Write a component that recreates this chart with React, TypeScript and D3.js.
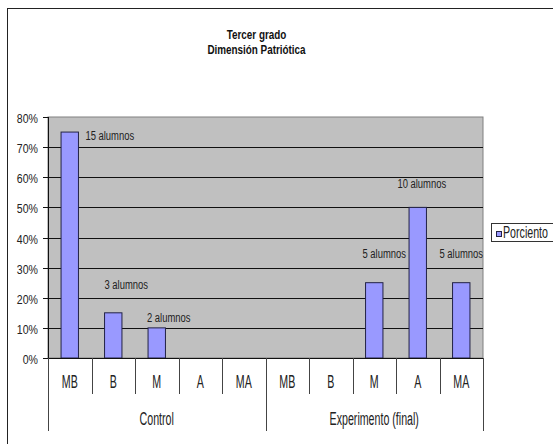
import React from "react";
import * as d3 from "d3";

const categories = ["MB", "B", "M", "A", "MA", "MB", "B", "M", "A", "MA"];
const groups = ["Control", "Experimento (final)"];
const values = [0.75, 0.15, 0.1, 0, 0, 0, 0, 0.25, 0.5, 0.25];
const barLabels = ["15 alumnos", "3 alumnos", "2 alumnos", "", "", "", "", "5 alumnos", "10 alumnos", "5 alumnos"];
const yTicks = [0, 0.1, 0.2, 0.3, 0.4, 0.5, 0.6, 0.7, 0.8];
const titleLines = ["Tercer grado", "Dimensión Patriótica"];
const seriesName = "Porciento";

// manual label placement (style, not data)
const labelOffsets: [number, number][] = [
  [40, 8], [13, -24], [12, -6], [0, 0], [0, 0], [0, 0], [0, 0], [10, -24.5], [4, -19], [0, -24.5],
];

const W = 553, H = 444;
const plot = { left: 48, right: 483, top: 117, bottom: 358 };
const SANS = "'Liberation Sans', Arial, sans-serif";

function NText(props: {
  x: number; y: number; sx?: number; sy?: number; size: number; anchor?: string; bold?: boolean; children: React.ReactNode; fill?: string;
}) {
  const { x, y, sx = 0.82, sy = 1, size, anchor = "middle", bold, children, fill = "#222" } = props;
  return (
    <text
      transform={`translate(${x},${y}) scale(${sx},${sy})`}
      textAnchor={anchor}
      fontFamily={SANS}
      fontSize={size}
      fontWeight={bold ? "bold" : "normal"}
      fill={fill}
    >
      {children}
    </text>
  );
}

export default function App() {
  const idx = categories.map((_, i) => i);
  const x = d3.scaleBand<number>().domain(idx).range([plot.left, plot.right]).paddingInner(0).paddingOuter(0);
  const y = d3.scaleLinear().domain([0, 0.8]).range([plot.bottom, plot.top]);
  const bw = x.bandwidth();
  const barW = bw * 0.4;
  const fmt = d3.format(".0%");
  const groupSize = categories.length / groups.length;
  const px = (v: number) => Math.round(v) + 0.5;

  return (
    <svg width={W} height={H} style={{ position: "absolute", left: 0, top: 0, background: "#fff" }}>
      {/* outer frame */}
      <rect x={7.5} y={8.5} width={700} height={600} fill="#fff" stroke="#222" strokeWidth={1} />

      {/* title */}
      {titleLines.map((t, i) => (
        <NText key={t} x={256.5} y={38.5 + i * 15.2} size={11.5} bold sx={0.86} sy={1.05} fill="#111">
          {t}
        </NText>
      ))}

      {/* plot area */}
      <rect x={plot.left} y={plot.top} width={plot.right - plot.left} height={plot.bottom - plot.top} fill="#c0c0c0" stroke="#808080" strokeWidth={1} />

      {/* gridlines */}
      {yTicks.filter((t) => t > 0 && t < 0.8).map((t) => (
        <line key={t} x1={plot.left} x2={plot.right} y1={px(y(t))} y2={px(y(t))} stroke="#111" strokeWidth={1} />
      ))}

      {/* bars */}
      {values.map((v, i) =>
        v > 0 ? (
          <rect key={i} x={(x(i) as number) + (bw - barW) / 2} y={y(v)} width={barW} height={y(0) - y(v)} fill="#9999ff" stroke="#222244" strokeWidth={1} />
        ) : null
      )}

      {/* y axis */}
      <line x1={plot.left + 0.5} x2={plot.left + 0.5} y1={plot.top} y2={plot.bottom} stroke="#111" />
      {yTicks.map((t) => (
        <g key={t}>
          <line x1={plot.left - 5} x2={plot.left} y1={px(y(t))} y2={px(y(t))} stroke="#111" />
          <NText x={38} y={y(t) + 6} size={11.5} anchor="end" sx={0.92} sy={1.05}>
            {fmt(t)}
          </NText>
        </g>
      ))}

      {/* x axis */}
      <line x1={plot.left} x2={plot.right} y1={plot.bottom + 0.5} y2={plot.bottom + 0.5} stroke="#111" />
      {idx.map((i) =>
        i % groupSize !== 0 ? (
          <line key={"s" + i} x1={px(x(i) as number)} x2={px(x(i) as number)} y1={plot.bottom} y2={394} stroke="#444" />
        ) : null
      )}
      {d3.range(groups.length + 1).map((g) => {
        const gx = g < groups.length ? (x(g * groupSize) as number) : plot.right;
        return <line key={"g" + g} x1={px(gx)} x2={px(gx)} y1={plot.bottom} y2={431} stroke="#444" />;
      })}
      {categories.map((c, i) => (
        <NText key={"c" + i} x={(x(i) as number) + bw / 2} y={388} size={13} sy={1.4}>
          {c}
        </NText>
      ))}
      {groups.map((g, gi) => (
        <NText key={g} x={(x(gi * groupSize) as number) + (bw * groupSize) / 2} y={424.5} size={13} sy={1.35}>
          {g}
        </NText>
      ))}

      {/* bar labels */}
      {barLabels.map((l, i) =>
        l ? (
          <NText key={"l" + i} x={(x(i) as number) + bw / 2 + labelOffsets[i][0]} y={y(values[i]) + labelOffsets[i][1]} size={11.5} sy={1.05}>
            {l}
          </NText>
        ) : null
      )}

      {/* legend */}
      <rect x={491.5} y={223.5} width={80} height={18} fill="#fff" stroke="#333" />
      <rect x={496.5} y={231.5} width={5} height={5} fill="#9999ff" stroke="#222244" />
      <NText x={503} y={237.5} size={13} anchor="start" sy={1.3}>
        {seriesName}
      </NText>
    </svg>
  );
}
